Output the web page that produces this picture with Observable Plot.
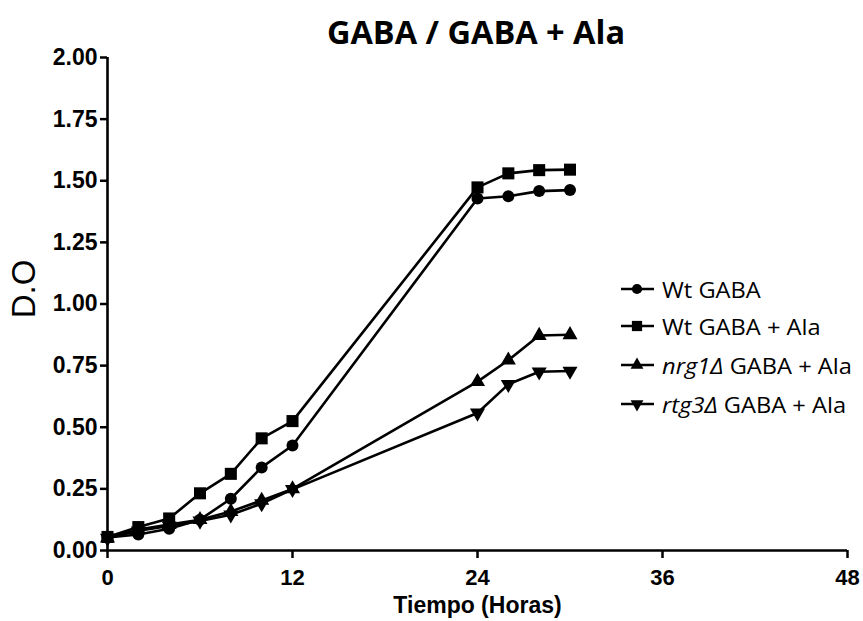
<!DOCTYPE html>
<html>
<head>
<meta charset="utf-8">
<script src="https://cdn.jsdelivr.net/npm/d3@7"></script>
<script src="https://cdn.jsdelivr.net/npm/@observablehq/plot@0.6"></script>
<style>
  html, body { margin: 0; padding: 0; background: #fff; }
  #wrap { position: relative; width: 863px; height: 621px; overflow: hidden; background: #fff; }
  #title { position: absolute; top: 9px; left: 476px; transform: translateX(-50%); white-space: nowrap; z-index: 2;
           font-family: "Open Sans", sans-serif; font-weight: bold; font-size: 32.5px; color: #000; }
  #chart { position: absolute; left: 0; top: 0; z-index: 1; }
  #legend { position: absolute; left: 0; top: 0; z-index: 2; }
  .leg { position: absolute; left: 620px; height: 24px; display: flex; align-items: center; white-space: nowrap;
         font-family: "Open Sans", sans-serif; font-size: 21.5px; color: #000; }
  .leg svg { margin-right: 6px; }
  .leg span { display: inline-block; transform: scaleX(1.1); transform-origin: left center; }
  .leg i { font-style: italic; }
</style>
</head>
<body>
<div id="wrap">
  <div id="title">GABA / GABA + Ala</div>
  <div id="chart"></div>
  <div id="legend"></div>
</div>
<script>
// ---- data ----
const time = [0, 2, 4, 6, 8, 10, 12, 24, 26, 28, 30];
const wtGaba    = [0.053, 0.065, 0.088, 0.125, 0.21, 0.337, 0.426, 1.428, 1.437, 1.458, 1.462];
const wtGabaAla = [0.055, 0.095, 0.13, 0.232, 0.311, 0.455, 0.525, 1.473, 1.53, 1.543, 1.545];
const nrg1      = [0.05, 0.085, 0.105, 0.125, 0.158, 0.203, 0.25, 0.685, 0.772, 0.872, 0.875];
const rtg3      = [0.05, 0.08, 0.1, 0.12, 0.145, 0.19, 0.248, 0.558, 0.674, 0.725, 0.728];
const seriesNames = ["Wt GABA", "Wt GABA + Ala", "nrg1Δ GABA + Ala", "rtg3Δ GABA + Ala"];
const xTicks = [0, 12, 24, 36, 48];
const yTicks = [0, 0.25, 0.5, 0.75, 1.0, 1.25, 1.5, 1.75, 2.0];

const triangleDown = {
  draw(context, size) {
    const s3 = Math.sqrt(3);
    const y = -Math.sqrt(size / (s3 * 3));
    context.moveTo(0, -y * 2);
    context.lineTo(-s3 * y, y);
    context.lineTo(s3 * y, y);
    context.closePath();
  }
};

const series = [
  {name: seriesNames[0], values: wtGaba, symbol: "circle", r: 6},
  {name: seriesNames[1], values: wtGabaAla, symbol: "square", r: 6.8},
  {name: seriesNames[2], values: nrg1, symbol: "triangle", r: 5.6},
  {name: seriesNames[3], values: rtg3, symbol: triangleDown, r: 5.6}
];

const marks = [];
for (const s of series) {
  const rows = time.map((t, i) => ({t, v: s.values[i]}));
  marks.push(Plot.line(rows, {x: "t", y: "v", stroke: "#000", strokeWidth: 2.6}));
  marks.push(Plot.dot(rows, {x: "t", y: "v", symbol: () => s.symbol, r: s.r, fill: "#000", stroke: "none"}));
}

const chart = Plot.plot({
  width: 863,
  height: 621,
  marginTop: 57,
  marginBottom: 71,
  marginLeft: 107,
  marginRight: 16,
  style: {fontFamily: "'Liberation Sans', Arial, sans-serif", background: "transparent", color: "#000"},
  x: {domain: [0, 48]},
  y: {domain: [0, 2]},
  marks: [
    Plot.axisX(xTicks, {tickSize: 8, tickPadding: 11, strokeWidth: 2.5, fontSize: 22, fontWeight: "bold", label: null}),
    Plot.axisY(yTicks, {tickSize: 7, tickPadding: 3, strokeWidth: 2.5, fontSize: 23, fontWeight: "bold", label: null, tickFormat: d3.format(".2f")}),
    Plot.ruleX([0], {stroke: "#000", strokeWidth: 2.6}),
    Plot.ruleY([0], {stroke: "#000", strokeWidth: 2.6}),
    Plot.text(["Tiempo (Horas)"], {frameAnchor: "bottom", dy: 62, fontSize: 23, fontWeight: "bold", fill: "#000"}),
    Plot.text(["D.O"], {frameAnchor: "left", textAnchor: "middle", rotate: -90, dx: -83, dy: -15, fontSize: 33, fill: "#000"}),
    ...marks
  ]
});
document.getElementById("chart").appendChild(chart);

// ---- legend (HTML) ----
const legTops = [277, 314, 353, 392];
const legend = document.getElementById("legend");
series.forEach((s, i) => {
  const row = document.createElement("div");
  row.className = "leg";
  row.style.top = legTops[i] + "px";
  const svg = d3.create("svg").attr("width", 36).attr("height", 24);
  svg.append("line").attr("x1", 1).attr("x2", 34).attr("y1", 12).attr("y2", 12).attr("stroke", "#000").attr("stroke-width", 2.6);
  const type = s.symbol === "circle" ? d3.symbolCircle : s.symbol === "square" ? d3.symbolSquare : s.symbol === "triangle" ? d3.symbolTriangle : triangleDown;
  svg.append("path").attr("transform", "translate(17,12)").attr("d", d3.symbol(type, Math.PI * (s.r * 0.85) ** 2)()).attr("fill", "#000");
  row.appendChild(svg.node());
  const label = document.createElement("span");
  const m = s.name.match(/^(\S+Δ)(.*)$/);
  if (m) {
    const it = document.createElement("i");
    it.textContent = m[1];
    label.appendChild(it);
    label.appendChild(document.createTextNode(m[2]));
  } else {
    label.textContent = s.name;
  }
  row.appendChild(label);
  legend.appendChild(row);
});
</script>
</body>
</html>
